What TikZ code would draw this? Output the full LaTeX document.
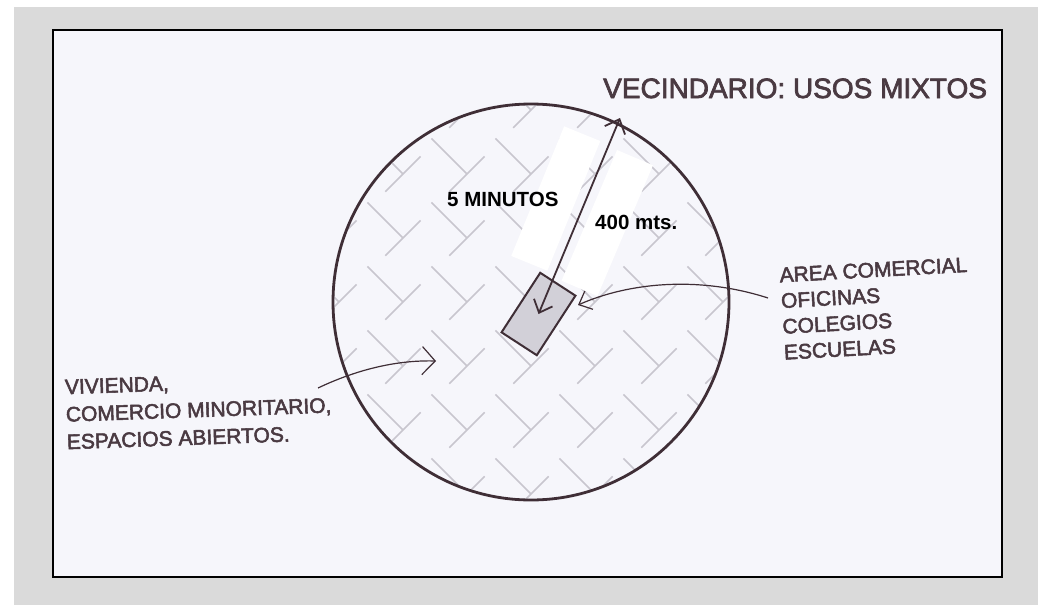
\documentclass[tikz,border=0pt]{standalone}
\usepackage{fontspec}
\setmainfont{Liberation Sans}
\newfontfamily\scanfont[FakeBold=2.5]{Liberation Sans}
\usetikzlibrary{arrows.meta}
\definecolor{ink}{HTML}{3F2E36}
\definecolor{txt}{HTML}{4A3A42}
\definecolor{framec}{HTML}{DADADA}
\definecolor{paper}{HTML}{F6F6FB}
\definecolor{hatchc}{HTML}{C8C6CE}
\definecolor{sqfill}{HTML}{D2D0D8}
\begin{document}
\begin{tikzpicture}[x=1pt,y=-1pt,
  lbl/.style={text=txt, font=\scanfont\fontsize{21}{25.8}\selectfont, inner sep=0pt, align=left, anchor=north west},
  blk/.style={text=black, font=\bfseries\fontsize{20.5}{24}\selectfont, inner sep=0pt, anchor=base west},
  hatchline/.style={hatchc, line width=1.5pt},
  whitebar/.style={fill=white, inner sep=0pt, minimum height=39pt},
  conn/.style={ink, line width=1.2pt},
]
\useasboundingbox (0,0) rectangle (1038,605);
\fill[white] (0,0) rectangle (1038,605);
\fill[framec] (14,7) rectangle (1038,605);
\draw[black, line width=2pt, fill=paper] (53,30) rectangle (1002,577);

% woven hatch inside the circle
\begin{scope}
  \clip (531,302) circle[radius=197pt];
  \foreach \c in {-512,-448,...,512} {
    \draw[hatchline, dash pattern=on 50pt off 40.5pt, dash phase=81.6pt] (531+\c-280,302+280) -- (531+\c+280,302-280);
    \draw[hatchline, dash pattern=on 50pt off 40.5pt, dash phase=16.35pt] (531+\c-280,302-280) -- (531+\c+280,302+280);
  }
\end{scope}

\node[circle, draw=ink, line width=2.8pt, minimum size=396pt, inner sep=0pt] (circ) at (531,302) {};

% white bars behind labels
\node[whitebar, minimum width=140pt, rotate=67.8] (wa) at (555.75,198.5) {};
\node[whitebar, minimum width=142pt, rotate=67] (wb) at (607.25,223) {};

% central square
\node[draw=ink, fill=sqfill, line width=2pt, minimum width=42pt, minimum height=71pt, inner sep=0pt, rotate=-33] (sq) at (538.5,314) {};

% radius arrow
\coordinate (tip) at (620,118);
\draw[ink, line width=1.8pt, {Straight Barb[length=11pt,width=20pt]}-{Straight Barb[length=12pt,width=22pt]}] (sq.center) -- (tip);

% labels
\node[blk] (m5) at (447,206) {5 MINUTOS};
\node[blk] (m400) at (595,229) {400 mts.};

\node[lbl, anchor=base west, font=\scanfont\fontsize{28}{32}\selectfont] (title) at (603,98) {VECINDARIO: USOS MIXTOS};

\node[lbl, rotate=3.2] (rgt) at (779,267.5) {AREA COMERCIAL\\OFICINAS\\COLEGIOS\\ESCUELAS};

\node[lbl, rotate=2, font=\scanfont\fontsize{21}{27.5}\selectfont] (lft) at (64.5,379.6) {VIVIENDA,\\COMERCIO MINORITARIO,\\ESPACIOS ABIERTOS.};

% connectors
\coordinate (r0) at (768,298);
\coordinate (r1) at (578,305);
\draw[conn, -{Straight Barb[length=11pt,width=20pt]}] (r0) .. controls (700,276) and (630,282) .. (r1);
\coordinate (l0) at (318,388);
\coordinate (l1) at (436,361);
\draw[conn, -{Straight Barb[length=13pt,width=28pt]}] (l0) .. controls (360,368) and (400,360) .. (l1);
\end{tikzpicture}
\end{document}
